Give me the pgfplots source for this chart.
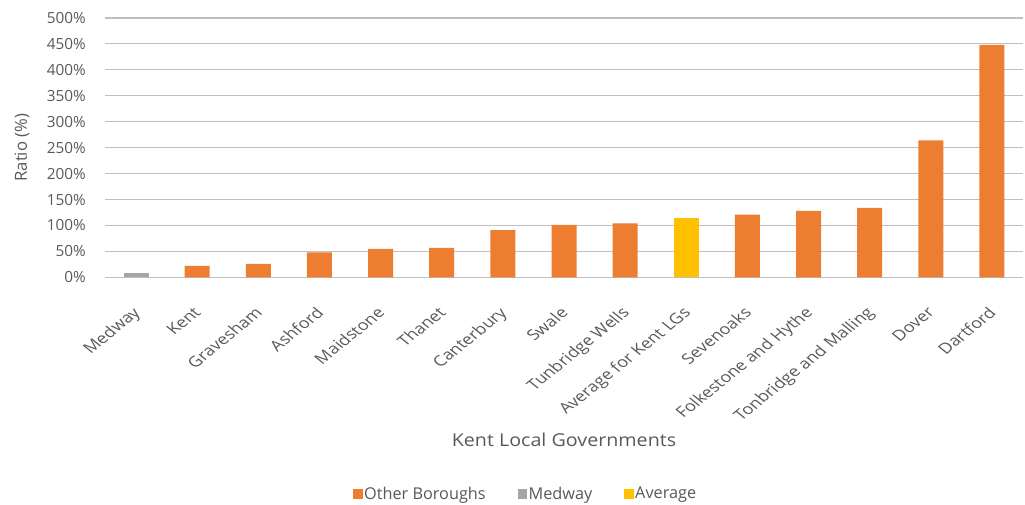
\documentclass[border=0pt]{standalone}
\usepackage{pgfplots}
\pgfplotsset{compat=1.18}
\usepackage{fontspec}
\setmainfont{Open Sans}
\definecolor{orng}{HTML}{ED7D31}
\definecolor{gry}{HTML}{A5A5A5}
\definecolor{gld}{HTML}{FFC000}
\definecolor{txt}{HTML}{595959}
\definecolor{grid}{HTML}{D9D9D9}
\begin{document}
\begin{tikzpicture}
\begin{axis}[
  at={(0,0)}, anchor=south west,
  scale only axis,
  width=687.75pt, height=194.5pt,
  xmin=-0.5, xmax=14.5, ymin=0, ymax=500,
  ytick={0,50,...,500},
  yticklabel={\pgfmathprintnumber{\tick}\%},
  /pgf/number format/assume math mode=true,
  xtick={0,...,14},
  xticklabels={Medway,Kent,Gravesham,Ashford,Maidstone,Thanet,Canterbury,Swale,Tunbridge Wells,Average for Kent LGs,Sevenoaks,Folkestone and Hythe,Tonbridge and Malling,Dover,Dartford},
  xtick style={draw=none}, ytick style={draw=none},
  axis line style={draw=none},
  xmajorgrids=false,
  ymajorgrids, grid style={grid, line width=0.8pt},
  ybar, bar width=18.75pt, bar shift=0pt,
  ticklabel style={text=txt},
  yticklabel style={font=\fontsize{11.5}{13}\selectfont, inner sep=0pt, anchor=east, xshift=-14.6pt},
  xticklabel style={font=\fontsize{11}{13}\selectfont, xscale=1.24, rotate=45, anchor=north east, inner sep=0pt, yshift=-10pt, xshift=-14pt},
  xlabel={Kent Local Governments},
  ylabel={Ratio (\%)},
  label style={text=txt},
  xlabel style={font=\fontsize{13.3}{15}\selectfont, xscale=1.11, at={(axis description cs:0.5,-0.6275)}, anchor=center},
  ylabel style={font=\fontsize{12.5}{14}\selectfont, at={(axis description cs:-0.0911,0.5)}, anchor=center, rotate=0},
  legend columns=3,
  legend style={draw=none, at={(axis description cs:0.4586,-0.8357)}, anchor=center,
    font=\fontsize{12.2}{14}\selectfont, text=txt,
    /tikz/every even column/.append style={column sep=22pt},
    /tikz/every odd column/.append style={column sep=-0.8pt}},
  legend image code/.code={\fill[#1] (0pt,-3.5pt) rectangle (7pt,3.5pt);},
]
\addplot[fill=orng, draw=none] coordinates {(1,22) (2,26) (3,48) (4,55) (5,57) (6,91) (7,101) (8,104) (10,121) (11,128) (12,134) (13,264) (14,448)};
\addlegendentry{Other Boroughs}
\addplot[fill=gry, draw=none] coordinates {(0,8.5)};
\addlegendentry{Medway}
\addplot[fill=gld, draw=none] coordinates {(9,115)};
\addlegendentry{Average}
\end{axis}
\pgfresetboundingbox
\path (-79.125pt,-170pt) rectangle (689.625pt,208pt);
\end{tikzpicture}
\end{document}
